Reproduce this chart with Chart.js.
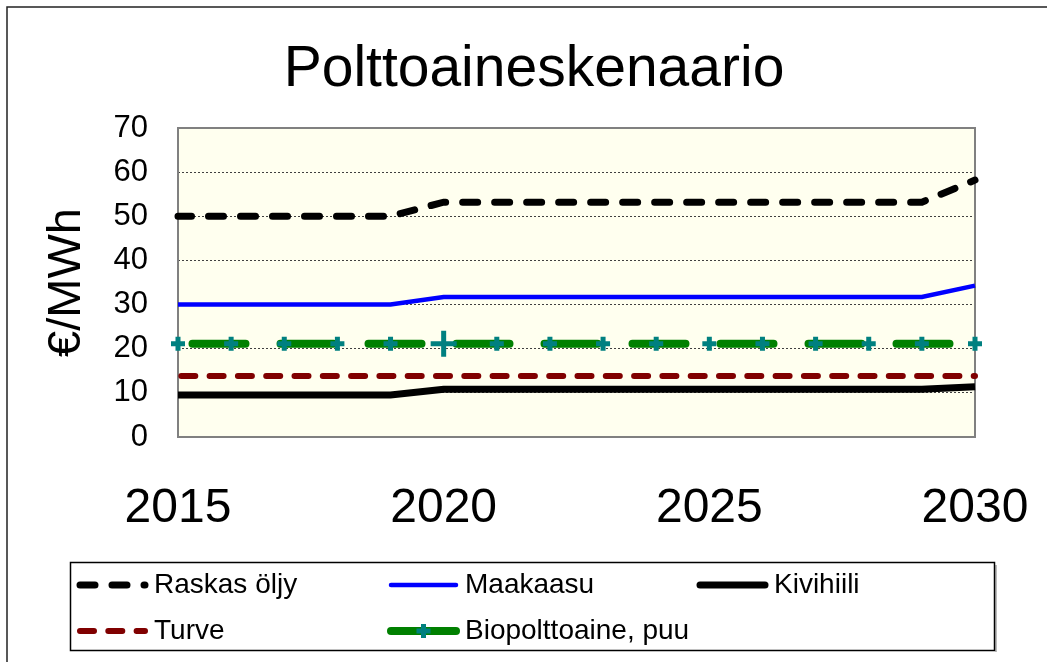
<!DOCTYPE html>
<html>
<head>
<meta charset="utf-8">
<script src="https://cdn.jsdelivr.net/npm/chart.js@4/dist/chart.umd.min.js"></script>
<style>
  body { margin: 0; background: #fff; }
  #wrap { width: 1047px; height: 662px; }
</style>
</head>
<body>
<div id="wrap"><canvas id="chart" width="1047" height="662"></canvas></div>
<script>
// data
const years = [2015, 2016, 2017, 2018, 2019, 2020, 2021, 2022, 2023, 2024, 2025, 2026, 2027, 2028, 2029, 2030];
const raskasOljy = [50, 50, 50, 50, 50, 53.2, 53.2, 53.2, 53.2, 53.2, 53.2, 53.2, 53.2, 53.2, 53.2, 58.2];
const maakaasu = [30, 30, 30, 30, 30, 31.7, 31.7, 31.7, 31.7, 31.7, 31.7, 31.7, 31.7, 31.7, 31.7, 34.3];
const kivihiili = [9.5, 9.5, 9.5, 9.5, 9.5, 10.8, 10.8, 10.8, 10.8, 10.8, 10.8, 10.8, 10.8, 10.8, 10.8, 11.4];
const turve = [13.8, 13.8, 13.8, 13.8, 13.8, 13.8, 13.8, 13.8, 13.8, 13.8, 13.8, 13.8, 13.8, 13.8, 13.8, 13.8];
const bio = [21.1, 21.1, 21.1, 21.1, 21.1, 21.1, 21.1, 21.1, 21.1, 21.1, 21.1, 21.1, 21.1, 21.1, 21.1, 21.1];
const xTicks = [2015, 2020, 2025, 2030];
const yTicks = [0, 10, 20, 30, 40, 50, 60, 70];

const FONT = '"Liberation Sans", Arial, sans-serif';

function pts(arr) {
    return arr.map((v, i) => ({ x: years[i], y: v }));
}

// legend + title + frame, drawn by hand to match the layout
const decor = {
    id: 'decor',
    beforeDraw(chart) {
        const ctx = chart.ctx;
        const a = chart.chartArea;
        ctx.save();
        ctx.fillStyle = '#fff';
        ctx.fillRect(0, 0, chart.width, chart.height);
        ctx.fillStyle = '#FFFFEF';
        ctx.fillRect(a.left, a.top, a.right - a.left, a.bottom - a.top);
        ctx.restore();
    },
    beforeDatasetsDraw(chart) {
        const ctx = chart.ctx;
        const a = chart.chartArea;
        ctx.save();
        ctx.strokeStyle = '#808080';
        ctx.lineWidth = 2;
        ctx.strokeRect(a.left, a.top, a.right - a.left, a.bottom - a.top);
        ctx.restore();
    },
    afterDraw(chart) {
        const ctx = chart.ctx;
        ctx.save();
        // outer frame
        ctx.strokeStyle = '#222';
        ctx.lineWidth = 1.5;
        ctx.beginPath();
        ctx.moveTo(7, 662);
        ctx.lineTo(7, 7);
        ctx.lineTo(1047, 7);
        ctx.stroke();

        // title
        ctx.fillStyle = '#000';
        ctx.font = '57px ' + FONT;
        ctx.textAlign = 'center';
        ctx.textBaseline = 'alphabetic';
        ctx.fillText('Polttoaineskenaario', 534, 86);

        // legend box
        ctx.fillStyle = '#bbb';
        ctx.fillRect(995, 565, 2, 87);
        ctx.strokeStyle = '#000';
        ctx.lineWidth = 1.5;
        ctx.strokeRect(70.5, 562.5, 924, 88);

        const slots = [
            [77, 585], [388, 585], [697, 585],
            [77, 631], [388, 631]
        ];
        ctx.font = '28px ' + FONT;
        ctx.textAlign = 'left';
        ctx.textBaseline = 'middle';
        chart.data.datasets.forEach((ds, i) => {
            const [x, y] = slots[i];
            const x2 = x + 71;
            ctx.save();
            ctx.strokeStyle = ds.borderColor;
            ctx.lineWidth = ds.borderWidth;
            ctx.lineCap = 'round';
            if (ds.legendDash) ctx.setLineDash(ds.legendDash);
            ctx.lineDashOffset = ds.legendDashOffset || 0;
            ctx.beginPath();
            ctx.moveTo(x + 3, y);
            ctx.lineTo(x2 - 3, y);
            ctx.stroke();
            ctx.restore();
            if (ds.pointRadius) {
                const cx = (x + x2) / 2;
                ctx.save();
                ctx.strokeStyle = ds.pointBorderColor;
                ctx.lineWidth = 5;
                ctx.beginPath();
                ctx.moveTo(cx - 7, y); ctx.lineTo(cx + 7, y);
                ctx.moveTo(cx, y - 7); ctx.lineTo(cx, y + 7);
                ctx.stroke();
                ctx.restore();
            }
            ctx.fillStyle = '#000';
            ctx.fillText(ds.label, x2 + 6, y);
        });
        ctx.restore();
    }
};

new Chart(document.getElementById('chart'), {
    type: 'line',
    data: {
        datasets: [{
            label: 'Raskas öljy',
            data: pts(raskasOljy),
            borderColor: '#000',
            borderWidth: 7,
            borderCapStyle: 'round',
            borderDash: [15, 17],
            borderDashOffset: 1.5,
            legendDash: [15, 17],
            legendDashOffset: 0,
            pointRadius: 0,
            clip: false
        }, {
            label: 'Maakaasu',
            data: pts(maakaasu),
            borderColor: '#0000FF',
            borderWidth: 4.5,
            pointRadius: 0,
            clip: false
        }, {
            label: 'Kivihiili',
            data: pts(kivihiili),
            borderColor: '#000',
            borderWidth: 7,
            pointRadius: 0,
            clip: false
        }, {
            label: 'Turve',
            data: pts(turve),
            borderColor: '#800000',
            borderWidth: 6,
            borderCapStyle: 'round',
            borderDash: [14, 14.3],
            borderDashOffset: 25,
            legendDash: [14, 14.3],
            legendDashOffset: 0,
            pointRadius: 0,
            clip: false
        }, {
            label: 'Biopolttoaine, puu',
            data: pts(bio),
            borderColor: '#008000',
            borderWidth: 8,
            borderCapStyle: 'round',
            borderDash: [53, 35],
            borderDashOffset: 73.5,
            pointStyle: 'cross',
            pointRadius: ctx => ctx.dataIndex === 5 ? 13 : 7,
            pointBorderWidth: 5,
            pointBorderColor: '#008080',
            pointBackgroundColor: '#008080',
            clip: false
        }]
    },
    options: {
        responsive: false,
        animation: false,
        events: [],
        layout: { padding: { top: 128, right: 72, bottom: 125, left: 0 } },
        plugins: {
            legend: { display: false },
            title: { display: false },
            tooltip: { enabled: false }
        },
        scales: {
            x: {
                type: 'linear',
                min: 2015,
                max: 2030,
                afterFit(scale) {
                    scale.height = 100;
                    scale.paddingLeft = 0;
                    scale.paddingRight = 0;
                },
                afterBuildTicks(scale) { scale.ticks = xTicks.map(v => ({ value: v })); },
                grid: { display: false, drawTicks: false },
                border: { display: false },
                ticks: {
                    color: '#000',
                    font: { family: FONT, size: 48 },
                    padding: 43,
                    maxRotation: 0,
                    callback: v => String(v)
                }
            },
            y: {
                min: 0,
                max: 70,
                afterFit(scale) { scale.width = 178; },
                afterBuildTicks(scale) { scale.ticks = yTicks.map(v => ({ value: v })); },
                grid: {
                    color: ctx => (ctx.tick && (ctx.tick.value === 0 || ctx.tick.value === 70)) ? 'rgba(0,0,0,0)' : '#404040',
                    lineWidth: 1,
                    drawTicks: false
                },
                border: { display: false, dash: [2, 2] },
                ticks: {
                    color: '#000',
                    font: { family: FONT, size: 31 },
                    padding: 30
                },
                title: {
                    display: true,
                    text: '€/MWh',
                    color: '#000',
                    font: { family: FONT, size: 47 },
                    padding: { top: 39, bottom: 0 }
                }
            }
        }
    },
    plugins: [decor]
});
</script>
</body>
</html>
